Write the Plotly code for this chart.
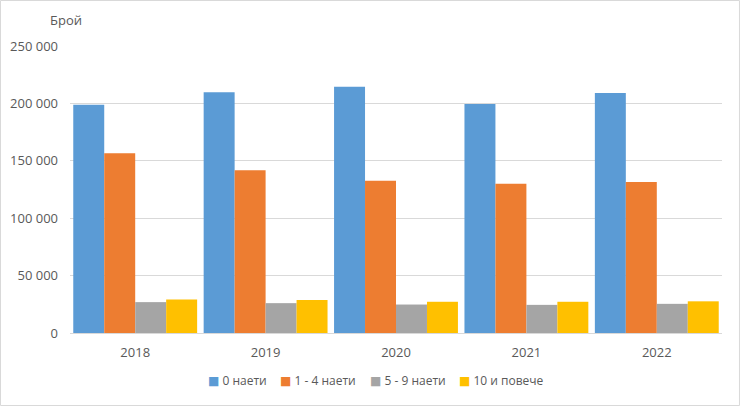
import plotly.graph_objects as go

years = ["2018", "2019", "2020", "2021", "2022"]
series_names = ["0 наети", "1 - 4 наети", "5 - 9 наети", "10 и повече"]
vals_0 = [198800, 209800, 214600, 199400, 209000]
vals_1_4 = [156500, 141800, 132700, 130000, 131600]
vals_5_9 = [26900, 26000, 24800, 24500, 25400]
vals_10 = [29200, 28800, 27200, 27200, 27600]
colors = ["#5B9BD5", "#ED7D31", "#A5A5A5", "#FFC000"]
y_ticks = [0, 50000, 100000, 150000, 200000, 250000]
y_tick_text = ["0", "50 000", "100 000", "150 000", "200 000", "250 000"]
legend_x_px = [206, 278, 368, 457]

fig = go.Figure()
for name, vals, c in zip(series_names, [vals_0, vals_1_4, vals_5_9, vals_10], colors):
    fig.add_trace(go.Bar(x=years, y=vals, name=name, marker=dict(color=c, line=dict(width=0))))

font_family = "Open Sans, Noto Sans, sans-serif"
plot_l, plot_w = 70, 652

annotations = [dict(text="Брой", xref="paper", yref="paper", x=-0.033, y=1.09,
                    xanchor="left", yanchor="middle", showarrow=False,
                    font=dict(size=13, color="#595959"))]
for name, c, px in zip(series_names, colors, legend_x_px):
    annotations.append(dict(
        text=f"<span style='color:{c};font-family:DejaVu Sans'>■</span> {name}",
        xref="paper", yref="paper", x=(px - plot_l) / plot_w, y=-0.167,
        xanchor="left", yanchor="middle", showarrow=False,
        font=dict(size=12, color="#595959", family=font_family)))

fig.update_layout(
    width=740, height=406,
    margin=dict(l=70, r=18, t=46, b=73),
    paper_bgcolor="white", plot_bgcolor="white",
    barmode="group", bargap=0.05, bargroupgap=0,
    font=dict(family=font_family, size=13, color="#595959"),
    xaxis=dict(showgrid=False, showline=True, linecolor="#D9D9D9", linewidth=1,
               automargin=False,
               ticks="", ticklabelstandoff=7, tickfont=dict(size=13, color="#595959")),
    yaxis=dict(range=[0, 250000], tickvals=y_ticks, ticktext=y_tick_text,
               automargin=False,
               showgrid=True, gridcolor="#D9D9D9", gridwidth=1, zeroline=False,
               showline=False, ticks="", ticklabelstandoff=11,
               tickfont=dict(size=13, color="#595959")),
    showlegend=False,
    annotations=annotations,
    shapes=[dict(type="rect", xref="paper", yref="paper",
                 x0=-0.1066, x1=1.0268, y0=-0.2526, y1=1.1585,
                 fillcolor="rgba(0,0,0,0)",
                 line=dict(color="#D9D9D9", width=1), layer="above")],
)

fig.write_html("out.html", config={"displayModeBar": False},
               post_script="document.body.style.margin='0';")
